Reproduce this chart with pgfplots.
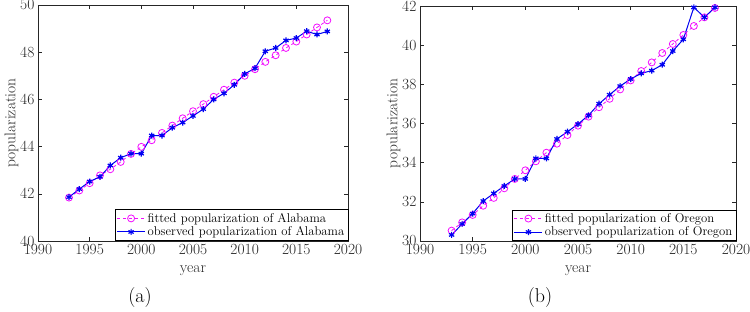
\documentclass[border=0pt]{standalone}
\usepackage{fontspec}
\usepackage{pgfplots}
\pgfplotsset{compat=1.18}
\definecolor{mblue}{rgb}{0.0,0.0,0.95}
\definecolor{mmag}{rgb}{0.95,0.05,1.0}
\definecolor{axgray}{rgb}{0.15,0.15,0.15}
\pgfplotsset{
  mystyle/.style={
    scale only axis,
    anchor=south west,
    xmin=1990, xmax=2020,
    xtick={1990,1995,...,2020},
    tick align=inside,
    major tick length=4pt,
    axis line style={axgray, line width=0.6pt},
    tick style={axgray, line width=0.5pt},
    tick label style={font=\fontsize{15.5}{18}\selectfont, text=axgray},
    label style={font=\fontsize{15.5}{18}\selectfont, text=axgray},
    /pgf/number format/.cd, 1000 sep={}, assume math mode=true, /pgfplots/.cd,
    xlabel={year},
    ylabel={popularization},
    xlabel shift=4pt,
    ylabel shift=-5pt,
    legend cell align=left,
    legend style={at={(1,0)}, anchor=south east, draw=black, line width=0.5pt,
      font=\fontsize{12.7}{14}\selectfont, inner sep=1.5pt, row sep=-1pt, fill=white},
    legend image code/.code={\draw[mark repeat=2,mark phase=2] plot coordinates {(0pt,0pt) (14pt,0pt) (28pt,0pt)};},
  },
  fitted/.style={color=mmag, dashed, line width=0.8pt, mark=o, mark size=3.5pt, mark options={solid, line width=0.8pt}},
  observed/.style={color=mblue, solid, line width=1pt, mark=asterisk, mark size=3pt, mark options={solid, line width=1.2pt}},
}
\begin{document}
\begin{tikzpicture}[x=1pt,y=1pt]
\useasboundingbox (0,0) rectangle (750,-312);
\begin{axis}[mystyle, at={(38pt,-241pt)}, width=310pt, height=236pt,
  ymin=40, ymax=50, ytick={40,42,...,50}]
\addplot[fitted] coordinates {
(1993,41.84)(1994,42.14)(1995,42.45)(1996,42.78)(1997,43.04)(1998,43.35)(1999,43.69)(2000,43.99)
(2001,44.27)(2002,44.58)(2003,44.89)(2004,45.20)(2005,45.50)(2006,45.80)(2007,46.11)(2008,46.41)
(2009,46.71)(2010,47.00)(2011,47.28)(2012,47.59)(2013,47.87)(2014,48.18)(2015,48.45)(2016,48.75)
(2017,49.05)(2018,49.35)};
\addlegendentry{fitted popularization of Alabama}
\addplot[observed] coordinates {
(1993,41.86)(1994,42.20)(1995,42.52)(1996,42.72)(1997,43.20)(1998,43.53)(1999,43.70)(2000,43.70)
(2001,44.47)(2002,44.47)(2003,44.80)(2004,45.02)(2005,45.30)(2006,45.59)(2007,46.00)(2008,46.26)
(2009,46.62)(2010,47.08)(2011,47.32)(2012,48.04)(2013,48.18)(2014,48.50)(2015,48.60)(2016,48.89)
(2017,48.75)(2018,48.88)};
\addlegendentry{observed popularization of Alabama}
\end{axis}
\begin{axis}[mystyle, at={(420pt,-241pt)}, width=316pt, height=235pt,
  ymin=30, ymax=42, ytick={30,32,...,42}]
\addplot[fitted] coordinates {
(1993,30.53)(1994,30.95)(1995,31.33)(1996,31.80)(1997,32.20)(1998,32.69)(1999,33.17)(2000,33.61)
(2001,34.07)(2002,34.51)(2003,34.97)(2004,35.41)(2005,35.89)(2006,36.35)(2007,36.83)(2008,37.26)
(2009,37.74)(2010,38.20)(2011,38.68)(2012,39.12)(2013,39.60)(2014,40.06)(2015,40.52)(2016,40.98)
(2017,41.42)(2018,41.90)};
\addlegendentry{fitted popularization of Oregon}
\addplot[observed] coordinates {
(1993,30.31)(1994,30.87)(1995,31.40)(1996,32.04)(1997,32.43)(1998,32.81)(1999,33.17)(2000,33.17)
(2001,34.22)(2002,34.22)(2003,35.21)(2004,35.58)(2005,35.97)(2006,36.42)(2007,37.01)(2008,37.47)
(2009,37.91)(2010,38.27)(2011,38.56)(2012,38.70)(2013,39.00)(2014,39.70)(2015,40.30)(2016,41.93)
(2017,41.42)(2018,41.93)};
\addlegendentry{observed popularization of Oregon}
\end{axis}
\node at (140,-298) {\fontsize{20}{24}\selectfont (a)};
\node at (540,-298) {\fontsize{20}{24}\selectfont (b)};
\end{tikzpicture}
\end{document}
